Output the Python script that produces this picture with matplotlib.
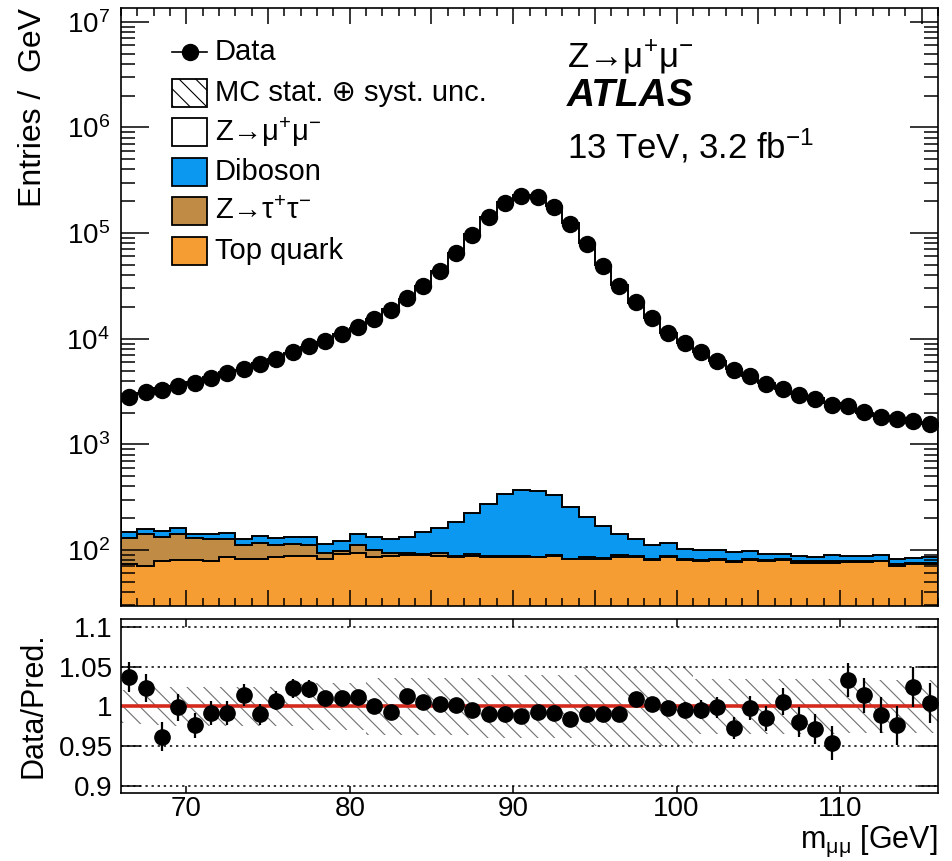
import numpy as np
import matplotlib
matplotlib.use('Agg')
import matplotlib.pyplot as plt
from matplotlib.patches import Rectangle
from matplotlib.lines import Line2D
from matplotlib.ticker import MultipleLocator, LogLocator, NullFormatter, NullLocator

plt.rcParams['font.family'] = ['Liberation Sans', 'DejaVu Sans']
plt.rcParams['mathtext.fontset'] = 'custom'
plt.rcParams['mathtext.rm'] = 'Liberation Sans'
plt.rcParams['mathtext.it'] = 'Liberation Sans:italic'
plt.rcParams['mathtext.bf'] = 'Liberation Sans:bold'
plt.rcParams['mathtext.default'] = 'regular'
plt.rcParams['hatch.linewidth'] = 0.8

# 1 GeV bins from 66 to 116 GeV
bin_edges = np.arange(66, 117)

# data, entries / GeV
data = [2830, 3110, 3250, 3550, 3820, 4260, 4750, 5180, 5810, 6440,
        7440, 8470, 9440, 11100, 12900, 15400, 18800, 24300, 31800, 44000,
        64900, 96600, 142000, 193000, 226000, 219000, 177000, 123000, 79400, 49200,
        31800, 22100, 15700, 11300, 9120, 7440, 6110, 5020, 4400, 3760,
        3370, 2920, 2660, 2370, 2300, 2010, 1820, 1720, 1660, 1570]

# data / prediction
ratio = [1.037, 1.023, 0.962, 0.999, 0.976, 0.992, 0.992, 1.014, 0.990, 1.007,
         1.023, 1.022, 1.010, 1.010, 1.012, 1.000, 0.993, 1.013, 1.005, 1.003,
         1.002, 0.995, 0.990, 0.990, 0.988, 0.993, 0.992, 0.984, 0.991, 0.991,
         0.991, 1.009, 1.003, 0.998, 0.996, 0.996, 0.999, 0.973, 0.998, 0.985,
         1.006, 0.980, 0.972, 0.954, 1.033, 1.014, 0.989, 0.976, 1.024, 1.004]

ratio_err = [0.019, 0.018, 0.018, 0.017, 0.016, 0.015, 0.015, 0.014, 0.013, 0.012,
             0.012, 0.011, 0.010, 0.0095, 0.0088, 0.0081, 0.0073, 0.0064, 0.0056, 0.0048,
             0.0039, 0.0032, 0.0027, 0.0023, 0.0021, 0.0021, 0.0024, 0.0029, 0.0035, 0.0045,
             0.0056, 0.0067, 0.0080, 0.0094, 0.010, 0.012, 0.013, 0.014, 0.015, 0.016,
             0.017, 0.019, 0.019, 0.021, 0.021, 0.022, 0.023, 0.024, 0.025, 0.025]

# MC stat. + syst. uncertainty (half width, relative)
unc_band = [0.021, 0.022, 0.024, 0.025, 0.025, 0.025, 0.025, 0.025, 0.025, 0.025,
            0.025, 0.030, 0.030, 0.030, 0.030, 0.036, 0.036, 0.036, 0.036, 0.036,
            0.036, 0.036, 0.040, 0.040, 0.040, 0.040, 0.040, 0.040, 0.050, 0.050,
            0.050, 0.050, 0.050, 0.050, 0.050, 0.035, 0.035, 0.035, 0.035, 0.035,
            0.035, 0.035, 0.035, 0.035, 0.033, 0.033, 0.033, 0.033, 0.033, 0.033]

# backgrounds
top_quark = [73, 70, 78, 80, 80, 79, 86, 83, 82, 86,
             88, 88, 82, 92, 94, 86, 88, 89, 90, 88,
             85, 88, 86, 85, 86, 85, 88, 82, 83, 83,
             85, 85, 81, 86, 80, 78, 80, 77, 81, 78,
             80, 76, 76, 76, 77, 77, 78, 71, 73, 73]
ztautau = [58, 72, 55, 62, 49, 47, 40, 28, 34, 25,
           25, 24, 11, 5, 17, 15, 5, 5, 1.5, 5,
           3, 4.5, 2, 3, 1, 1, 2, 1, 2, 1.5,
           4, 3, 1.5, 1.5, 1.5, 2.5, 1.5, 2, 1.5, 2,
           1.5, 2, 2, 2, 1.5, 1.5, 1.5, 2, 1.5, 1.5]
diboson = [18, 15, 17, 18, 14, 17, 19, 17, 20, 19,
           19, 20, 22, 24, 31, 31, 35, 38, 57, 70,
           96, 133, 182, 248, 281, 275, 239, 172, 119, 84,
           52, 40, 29, 30, 21, 19, 19, 16, 15, 11,
           11, 10, 8.5, 11, 9, 10, 10, 8.5, 9.5, 10.5]

c_top = '#f59c32'
c_ztt = '#c08c45'
c_dib = '#0a98f0'

data = np.array(data, dtype=float)
ratio = np.array(ratio)
centers = 0.5 * (bin_edges[:-1] + bin_edges[1:])
pred = data / ratio
lvl_top = np.array(top_quark, dtype=float)
lvl_ztt = lvl_top + np.array(ztautau)
lvl_dib = lvl_ztt + np.array(diboson)
band = np.array(unc_band)

W, H = 952, 861
def fx(x):
    return x / W
def fy(y):
    return 1 - y / H

fig = plt.figure(figsize=(W / 100, H / 100), dpi=100)
ax = fig.add_axes([fx(121), fy(606), (938 - 121) / W, (606 - 8) / H])
ax2 = fig.add_axes([fx(121), fy(793), (938 - 121) / W, (793 - 619) / H])

# ---- main panel
lw = 1.4
ax.stairs(pred, bin_edges, baseline=1, fill=True, facecolor='white', edgecolor='black', lw=lw)
ax.stairs(lvl_dib, bin_edges, baseline=1, fill=True, facecolor=c_dib, edgecolor='black', lw=lw)
ax.stairs(lvl_ztt, bin_edges, baseline=1, fill=True, facecolor=c_ztt, edgecolor='black', lw=lw)
ax.stairs(lvl_top, bin_edges, baseline=1, fill=True, facecolor=c_top, edgecolor='black', lw=lw)
ax.plot(centers, data, 'o', color='black', ms=11.5, zorder=5)

ax.set_yscale('log')
ax.set_xlim(66, 116)
ax.set_ylim(29.5, 1.35e7)
ax.xaxis.set_major_locator(MultipleLocator(5))
ax.xaxis.set_minor_locator(MultipleLocator(1))
ax.yaxis.set_major_locator(LogLocator(base=10, numticks=20))
ax.yaxis.set_minor_locator(LogLocator(base=10, subs=np.arange(2, 10), numticks=20))
ax.yaxis.set_minor_formatter(NullFormatter())
ax.tick_params(axis='both', which='both', direction='in', top=True, right=True, width=1.1)
ax.tick_params(axis='x', which='major', length=11.5, labelbottom=False)
ax.tick_params(axis='x', which='minor', length=5.8)
ax.tick_params(axis='y', which='major', length=20, labelsize=20, pad=8)
ax.tick_params(axis='y', which='minor', length=10)
for s in ax.spines.values():
    s.set_linewidth(1.2)

# ---- ratio panel
ax2.stairs(1 + band, bin_edges, baseline=1 - band, fill=True, facecolor='none',
           edgecolor='#707070', lw=0, hatch='\\\\')
for yv in [0.9, 0.95, 1.05, 1.1]:
    ax2.axhline(yv, color='black', lw=1.1, ls=(0, (1.5, 2.5)), zorder=1)
ax2.axhline(1.0, color='#d42a1e', lw=2.6, zorder=2)
ax2.errorbar(centers, ratio, yerr=ratio_err, fmt='o', color='black', ms=11,
             elinewidth=1.6, capsize=0, zorder=5)
ax2.set_xlim(66, 116)
ax2.set_ylim(0.891, 1.11)
ratio_ticks = [0.9, 0.95, 1.0, 1.05, 1.1]
ratio_labels = ['0.9', '0.95', '1', '1.05', '1.1']
ax2.set_yticks(ratio_ticks, ratio_labels)
ax2.xaxis.set_major_locator(MultipleLocator(10))
ax2.xaxis.set_minor_locator(NullLocator())
ax2.tick_params(axis='both', which='both', direction='in', top=True, right=True, width=1.1)
ax2.tick_params(axis='x', which='major', length=5.4, labelsize=20, pad=2)
ax2.tick_params(axis='y', which='major', length=14.5, labelsize=20, pad=6)
for s in ax2.spines.values():
    s.set_linewidth(1.2)

# ---- axis titles
fig.text(fx(33.5), fy(8), 'Entries /  GeV', rotation=90, ha='center', va='top', fontsize=23)
fig.text(fx(33.5), fy(705), 'Data/Pred.', rotation=90, ha='center', va='center', fontsize=22)
fig.text(fx(938), fy(859), 'm$_{\\mathregular{\u03bc\u03bc}}$ [GeV]', ha='right', va='bottom', fontsize=22)

# ---- labels
fig.text(fx(567), fy(67), 'Z\u2192\u03bc$^{+}$\u03bc$^{-}$', ha='left', va='baseline', fontsize=25)
fig.text(fx(567), fy(106), 'ATLAS', ha='left', va='baseline', fontsize=28,
         fontweight='bold', fontstyle='italic')
fig.text(fx(567), fy(158), '13 TeV, 3.2 fb$^{-1}$', ha='left', va='baseline', fontsize=25)

# ---- legend (drawn by hand, ROOT style)
rows = [51.5, 93, 132, 172, 211, 251]
bx0, bx1 = 172, 207
tx = 215
fig.add_artist(Line2D([fx(bx0), fx(bx1)], [fy(rows[0])] * 2, color='black', lw=1.2))
fig.add_artist(Line2D([fx((bx0 + bx1) / 2)], [fy(rows[0])], marker='o', ms=11.5, color='black'))
boxes = [('white', '\\\\'), ('white', None), (c_dib, None), (c_ztt, None), (c_top, None)]
for r, (fc, ht) in zip(rows[1:], boxes):
    rect = Rectangle((fx(bx0), fy(r + 14)), (bx1 - bx0) / W, 28 / H, transform=fig.transFigure,
                     facecolor=fc, edgecolor='black', lw=1.3, hatch=ht)
    fig.add_artist(rect)
labels = ['Data', 'MC stat. \u2295 syst. unc.', 'Z\u2192\u03bc$^{+}$\u03bc$^{-}$', 'Diboson',
          'Z\u2192\u03c4$^{+}$\u03c4$^{-}$', 'Top quark']
for r, lab in zip(rows, labels):
    fig.text(fx(tx), fy(r), lab, ha='left', va='center', fontsize=21)

fig.savefig('out.png', dpi=100)
